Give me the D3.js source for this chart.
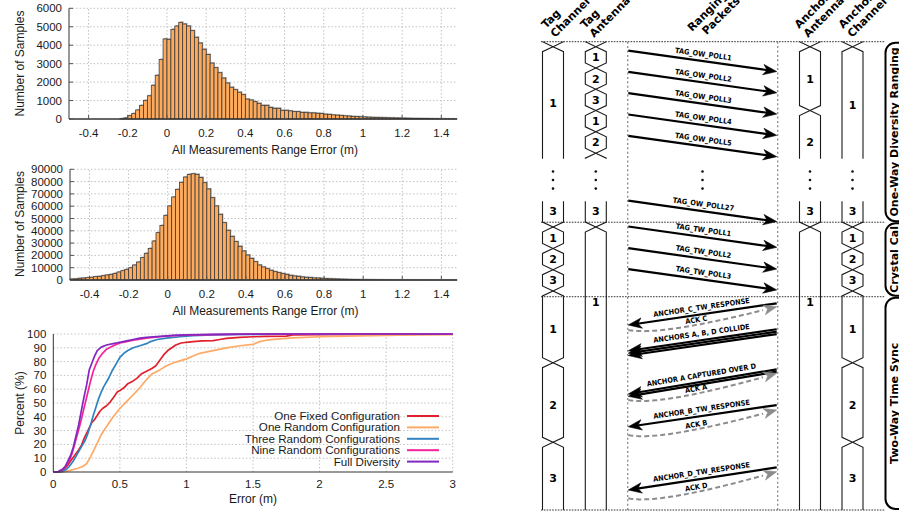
<!DOCTYPE html>
<html>
<head>
<meta charset="utf-8">
<script src="https://cdn.jsdelivr.net/npm/d3@7"></script>
<style>
  html, body { margin: 0; padding: 0; background: #fff; }
  svg { display: block; }
  .plot text { font-family: "Liberation Sans", Arial, sans-serif; fill: #1a1a1a; }
  .diag text { font-family: "DejaVu Sans", sans-serif; font-weight: bold; fill: #000; }
  .diag text.pkt { font-family: "DejaVu Sans Condensed", "Liberation Sans Narrow", "DejaVu Sans", sans-serif; font-stretch: condensed; }
</style>
</head>
<body>
<svg id="fig" width="899" height="518"></svg>
<script>
// ---------------- histogram data (bin width 0.02 m) ----------------
const BIN = 0.02;
const histTicksX = [-0.4, -0.2, 0, 0.2, 0.4, 0.6, 0.8, 1, 1.2, 1.4];

// all measurements, bins starting at -0.24 m
const allStart = -0.24;
const allCounts = [20, 60, 180, 300, 490, 740, 1010, 1260, 1830, 2370,
  3230, 4340, 4320, 4860, 5040, 5240, 5150, 5040, 4790, 4430,
  4120, 3780, 3500, 3030, 2780, 2510, 2220, 1950, 1720, 1590,
  1450, 1320, 1080, 1030, 940, 850, 740, 740, 630, 580,
  580, 470, 470, 440, 400, 400, 360, 360, 330, 330,
  310, 300, 260, 250, 220, 210, 190, 170, 160, 140,
  130, 120, 110, 100, 90, 85, 80, 70, 65, 60,
  55, 50, 45, 40, 35, 32, 30, 25, 22, 18,
  15, 12, 10, 8, 6, 4];
const allTicksY = [0, 1000, 2000, 3000, 4000, 5000, 6000];

// full diversity measurements, bins starting at -0.50 m
const fullStart = -0.5;
const fullCounts = [800, 900, 1400, 1600, 1900, 2200, 2700, 3000, 3500,
  4100, 4600, 5400, 6500, 7600, 8700, 10000, 12200, 14600, 18200,
  21700, 25700, 31700, 38500, 44400, 52600, 60200, 67500, 73700, 79400,
  83700, 85900, 86400, 85900, 83400, 79100, 74000, 66900, 60200, 53400,
  46600, 40400, 35500, 31200, 27400, 23600, 20300, 17600, 14900, 12200,
  10600, 9200, 7900, 6800, 6000, 5200, 4600, 3800, 3300, 3000,
  2500, 2200, 2000, 1700, 1600, 1400, 1100, 1000, 900, 800,
  650, 600, 500, 400, 350, 300, 260, 220, 190, 160,
  140, 120, 110, 100, 90, 80, 70, 60, 55, 50,
  45, 40, 35, 30, 28, 25, 22, 20, 18, 16];
const fullTicksY = [0, 10000, 20000, 30000, 40000, 50000, 60000, 70000, 80000, 90000];

// ---------------- CDF data: [error (m), percent] ----------------
const cdfNames = ["One Fixed Configuration", "One Random Configuration",
  "Three Random Configurations", "Nine Random Configurations", "Full Diversity"];
const cdfColors = ["#e0202c", "#fdaa66", "#2f83c0", "#f5229a", "#8228be"];
const cdfFixed = [[0,0],[0.05,0],[0.07,1],[0.09,3],[0.11,5],[0.13,8],[0.16,12],[0.19,16],[0.21,19],[0.23,24],[0.25,28],[0.27,32],[0.29,36],[0.31,38],[0.33,41],[0.35,44],[0.37,46],[0.4,48],[0.43,51],[0.46,55],[0.48,58],[0.5,59],[0.53,61],[0.56,64],[0.6,66],[0.63,68],[0.66,71],[0.7,73],[0.74,75],[0.77,77],[0.8,81],[0.83,85],[0.86,88],[0.89,90],[0.92,92],[0.96,93.5],[1.0,94],[1.05,94.5],[1.12,95],[1.2,95.2],[1.25,96],[1.3,96.8],[1.4,97.5],[1.5,98],[1.6,98.3],[1.75,98.5],[1.8,99.3],[2.0,99.6],[2.5,99.8],[3.0,100]];
const cdfOneRandom = [[0,0],[0.08,0],[0.12,1],[0.18,2.5],[0.22,4],[0.25,6],[0.28,11],[0.3,15],[0.33,21],[0.36,27],[0.4,33],[0.45,40],[0.5,46],[0.55,51],[0.6,56],[0.65,61],[0.7,67],[0.74,71],[0.8,74],[0.85,77],[0.9,79],[0.95,80.5],[1.0,82],[1.05,84],[1.1,86],[1.2,88],[1.3,90],[1.4,91.5],[1.5,92.5],[1.55,94.5],[1.6,95.5],[1.7,96.5],[1.8,97.2],[2.0,98],[2.3,98.7],[2.6,99.2],[3.0,99.5]];
const cdfThree = [[0,0],[0.06,0],[0.08,1],[0.1,2],[0.12,4],[0.15,8],[0.18,13],[0.21,18],[0.24,23],[0.26,28],[0.28,34],[0.3,41],[0.32,47],[0.34,53],[0.36,58],[0.38,62],[0.41,67],[0.44,73],[0.47,78],[0.5,83],[0.53,86],[0.56,88],[0.6,90],[0.65,91.5],[0.7,93],[0.73,94.5],[0.78,96],[0.85,97],[0.95,98],[1.05,98.8],[1.2,99.3],[1.4,99.7],[1.8,100],[3,100]];
const cdfNine = [[0,0],[0.04,0],[0.06,1],[0.08,3],[0.1,5],[0.12,8],[0.14,13],[0.16,20],[0.18,27],[0.2,34],[0.22,42],[0.24,50],[0.26,58],[0.28,66],[0.3,73],[0.32,78],[0.34,82],[0.37,86],[0.4,89],[0.45,91.5],[0.5,93.5],[0.55,94.5],[0.6,95.5],[0.7,97],[0.8,98],[0.9,98.8],[1.0,99.2],[1.2,99.6],[1.5,100],[3,100]];
const cdfFull = [[0,0],[0.03,0],[0.05,1],[0.07,2],[0.09,4],[0.11,8],[0.13,12],[0.15,18],[0.17,26],[0.19,34],[0.21,44],[0.23,54],[0.25,63],[0.27,74],[0.29,79],[0.31,84],[0.33,88],[0.36,90.5],[0.4,92],[0.45,93],[0.5,94],[0.55,95],[0.6,96],[0.65,97],[0.7,97.5],[0.8,98.3],[0.9,99],[1.0,99.4],[1.2,99.7],[1.5,99.9],[1.8,100],[3,100]];
const cdfSeries = [cdfFixed, cdfOneRandom, cdfThree, cdfNine, cdfFull];
const cdfTicksX = [0, 0.5, 1, 1.5, 2, 2.5, 3];
const cdfTicksY = [0, 10, 20, 30, 40, 50, 60, 70, 80, 90, 100];

// ---------------- timing diagram data (time in packet slots) ----------------
const laneHeaders = [["Tag", "Channel"], ["Tag", "Antenna"], ["Ranging", "Packets"], ["Anchor", "Antenna"], ["Anchor", "Channel"]];
const phaseNames = ["One-Way Diversity Ranging", "Crystal Cal", "Two-Way Time Sync"];
const phaseBounds = [0, 8.48, 11.98, 22];
const elidedSlots = [5.5, 7.5];

// bus segments: [start, end, starts with transition, ends with transition, value, label time]
const tagChannelBus = [[0,0.235,0,1,""],[0.235,5.5,1,0,"1",2.9],[7.5,8.71,0,1,"3",7.95],
  [8.71,9.71,1,1,"1"],[9.71,10.71,1,1,"2"],[10.71,11.71,1,1,"3"],
  [11.71,15.08,1,1,"1",13.5],[15.08,18.82,1,1,"2",17.07],[18.82,22,1,0,"3",20.5]];
const tagAntennaBus = [[0,0.235,0,1,""],[0.235,1.235,1,1,"1"],[1.235,2.235,1,1,"2"],[2.235,3.235,1,1,"3"],
  [3.235,4.235,1,1,"1"],[4.235,5.235,1,1,"2"],[5.235,5.5,1,0,""],[7.5,8.71,0,1,"3",7.95],[8.71,22,1,0,"1",12.25]];
const anchorAntennaBus = [[0,0.235,0,1,""],[0.235,3.235,1,1,"1"],[3.235,5.5,1,0,"2",4.7],
  [7.5,8.71,0,1,"3",7.95],[8.71,22,1,0,"1",12.25]];
const anchorChannelBus = [[0,0.235,0,1,""],[0.235,5.5,1,0,"1",2.97],[7.5,8.71,0,1,"3",7.95],
  [8.71,9.71,1,1,"1"],[9.71,10.71,1,1,"2"],[10.71,11.71,1,1,"3"],
  [11.71,15.08,1,1,"1",13.5],[15.08,18.82,1,1,"2",17.07],[18.82,22,1,0,"3",20.5]];

const owPolls = ["TAG_OW_POLL1", "TAG_OW_POLL2", "TAG_OW_POLL3", "TAG_OW_POLL4", "TAG_OW_POLL5", "TAG_OW_POLL27"];
const owSent = [0.42, 1.42, 2.42, 3.42, 4.42, 7.47];
const twPolls = ["TAG_TW_POLL1", "TAG_TW_POLL2", "TAG_TW_POLL3"];
const twSent = [8.68, 9.7, 10.68];
const pollAirtime = 0.98;

const responseLabels = ["ANCHOR_C_TW_RESPONSE", "ANCHORS A, B, D COLLIDE", "ANCHOR A CAPTURED OVER D", "ANCHOR_B_TW_RESPONSE", "ANCHOR_D_TW_RESPONSE"];
const responseCopies = [1, 3, 2, 1, 1];
const responseSent = [12.29, 13.51, 15.39, 17.07, 20.0];
const responseRecv = [13.31, 14.52, 16.55, 18.09, 21.06];
const ackLabels = ["ACK C", null, "ACK A", "ACK B", "ACK D"];
const ackSent = [13.54, null, 16.83, 18.48, 21.45];
const ackRecv = [12.45, null, 15.58, 17.3, 20.2];

// ======================================================================
const svg = d3.select("#fig");

function drawHistogram(counts, start, yMax, yTicks, box) {
  const g = svg.append("g").attr("class", "plot");
  const x = d3.scaleLinear().domain([-0.5, 1.48]).range([box.left, box.right]);
  const y = d3.scaleLinear().domain([0, yMax]).range([box.bottom, box.top]);

  g.append("g").selectAll("line").data(histTicksX).join("line")
    .attr("x1", d => x(d)).attr("x2", d => x(d))
    .attr("y1", box.bottom).attr("y2", box.top)
    .attr("stroke", "#c2c2c2").attr("stroke-dasharray", "1.5,2");
  g.append("g").selectAll("line").data(yTicks.slice(1)).join("line")
    .attr("x1", box.left).attr("x2", box.right)
    .attr("y1", d => y(d)).attr("y2", d => y(d))
    .attr("stroke", "#c2c2c2").attr("stroke-dasharray", "1.5,2");

  const bins = counts.map((c, i) => ({ x0: start + i * BIN, c }));
  const bw = x(BIN) - x(0);
  // soft grey offset outline behind the bars
  g.append("g").selectAll("rect").data(bins).join("rect")
    .attr("x", d => x(d.x0) + 1).attr("y", d => y(d.c) - 1)
    .attr("width", bw).attr("height", d => box.bottom - y(d.c))
    .attr("fill", "#b0b0b0");
  g.append("g").selectAll("rect").data(bins).join("rect")
    .attr("x", d => x(d.x0)).attr("y", d => y(d.c))
    .attr("width", bw).attr("height", d => box.bottom - y(d.c))
    .attr("fill", "#fdaa5c").attr("stroke", "#3d3d3d").attr("stroke-width", 0.8);

  // axes
  g.append("line").attr("x1", box.left).attr("x2", box.left).attr("y1", box.bottom).attr("y2", box.top)
    .attr("stroke", "#333").attr("stroke-width", 1);
  g.append("line").attr("x1", box.left).attr("x2", box.right).attr("y1", box.bottom).attr("y2", box.bottom)
    .attr("stroke", "#333").attr("stroke-width", 1.4);
  g.append("g").selectAll("line").data(histTicksX).join("line")
    .attr("x1", d => x(d)).attr("x2", d => x(d)).attr("y1", box.bottom).attr("y2", box.bottom - 4)
    .attr("stroke", "#555");
  g.append("g").selectAll("line").data(yTicks).join("line")
    .attr("x1", box.left).attr("x2", box.left + 4).attr("y1", d => y(d)).attr("y2", d => y(d))
    .attr("stroke", "#555");

  g.append("g").selectAll("text").data(yTicks).join("text")
    .attr("x", box.left - 7).attr("y", d => y(d) + 4).attr("text-anchor", "end")
    .attr("font-size", 11.5).text(d => String(d));
  g.append("g").selectAll("text").data(histTicksX).join("text")
    .attr("x", d => x(d)).attr("y", box.bottom + 18).attr("text-anchor", "middle")
    .attr("font-size", 11.5).text(d => String(d));
  g.append("text").attr("x", (box.left + box.right) / 2 + 2).attr("y", box.bottom + 35)
    .attr("text-anchor", "middle").attr("font-size", 12).text("All Measurements Range Error (m)");
  g.append("text").attr("transform", `translate(24,${box.titleY}) rotate(-90)`)
    .attr("text-anchor", "middle").attr("font-size", 12).text("Number of Samples");
}

drawHistogram(allCounts, allStart, 6000, allTicksY, { left: 69, right: 457, top: 8.3, bottom: 119, titleY: 63.5 });
drawHistogram(fullCounts, fullStart, 90000, fullTicksY, { left: 70, right: 457, top: 169.3, bottom: 280, titleY: 224 });

// ---------------- CDF plot ----------------
(function drawCdf() {
  const g = svg.append("g").attr("class", "plot");
  const x = d3.scaleLinear().domain([0, 3]).range([53.3, 452.7]);
  const y = d3.scaleLinear().domain([0, 100]).range([472, 334]);

  g.append("g").selectAll("line").data(cdfTicksX.slice(1)).join("line")
    .attr("x1", d => x(d)).attr("x2", d => x(d)).attr("y1", y(0)).attr("y2", y(100))
    .attr("stroke", "#c2c2c2").attr("stroke-dasharray", "1.5,2");
  g.append("g").selectAll("line").data(cdfTicksY.slice(1)).join("line")
    .attr("x1", x(0)).attr("x2", x(3)).attr("y1", d => y(d)).attr("y2", d => y(d))
    .attr("stroke", "#c2c2c2").attr("stroke-dasharray", "1.5,2");

  const line = d3.line().x(d => x(d[0])).y(d => y(d[1]));
  g.append("g").selectAll("path").data(cdfSeries).join("path")
    .attr("d", line).attr("fill", "none")
    .attr("stroke", (d, i) => cdfColors[i]).attr("stroke-width", 1.7)
    .attr("stroke-linejoin", "round");

  g.append("line").attr("x1", x(0)).attr("x2", x(0)).attr("y1", y(0)).attr("y2", y(100))
    .attr("stroke", "#333");
  g.append("line").attr("x1", x(0)).attr("x2", x(3)).attr("y1", y(0)).attr("y2", y(0))
    .attr("stroke", "#333");

  g.append("g").selectAll("text").data(cdfTicksY).join("text")
    .attr("x", x(0) - 7).attr("y", d => y(d) + 4).attr("text-anchor", "end")
    .attr("font-size", 11.5).text(d => String(d));
  g.append("g").selectAll("text").data(cdfTicksX).join("text")
    .attr("x", d => x(d)).attr("y", y(0) + 16).attr("text-anchor", "middle")
    .attr("font-size", 11.5).text(d => String(d));
  g.append("text").attr("x", (x(0) + x(3)) / 2).attr("y", y(0) + 30.5)
    .attr("text-anchor", "middle").attr("font-size", 12).text("Error (m)");
  g.append("text").attr("transform", `translate(23.5,${y(50) + 0}) rotate(-90)`)
    .attr("text-anchor", "middle").attr("font-size", 12).text("Percent (%)");

  const lg = g.append("g").selectAll("g").data(cdfNames).join("g")
    .attr("transform", (d, i) => `translate(0,${416 + i * 11.4})`);
  lg.append("text").attr("x", 400).attr("y", 4).attr("text-anchor", "end")
    .attr("font-size", 11.6).text(d => d);
  lg.append("line").attr("x1", 407).attr("x2", 439).attr("y1", 0).attr("y2", 0)
    .attr("stroke", (d, i) => cdfColors[i]).attr("stroke-width", 2);
})();

// ---------------- timing diagram ----------------
(function drawDiagram() {
  const dg = svg.append("g").attr("class", "diag");
  const yT = d3.scaleLinear().domain([0, 22]).range([41.7, 510]);
  const xP = d3.scaleLinear().domain([0, 1]).range([628.3, 776.7]);
  const laneCenter = [553, 595.8, 702.5, 810, 852.5];
  const W = 10.5, D = 5;

  // separators between phases
  dg.append("g").selectAll("line").data(phaseBounds).join("line")
    .attr("x1", 541).attr("x2", 885).attr("y1", d => yT(d)).attr("y2", d => yT(d))
    .attr("stroke", "#333").attr("stroke-width", 1).attr("stroke-dasharray", "1.6,1.2");
  // packet column borders
  dg.append("g").selectAll("line").data([0, 1]).join("line")
    .attr("x1", d => xP(d) - (d ? -1 : 0.6)).attr("x2", d => xP(d) - (d ? -1 : 0.6))
    .attr("y1", yT(0)).attr("y2", yT(22))
    .attr("stroke", "#8a8a8a").attr("stroke-width", 1.3).attr("stroke-dasharray", "2,2.4");

  // bus lanes
  function drawBus(cx, pieces) {
    const g = dg.append("g");
    pieces.forEach(([t0, t1, c0, c1, label, lt]) => {
      const y0 = yT(t0), y1 = yT(t1);
      [-1, 1].forEach(s => {
        const pts = [];
        if (c0) pts.push([cx, y0]);
        pts.push([cx + s * W, c0 ? y0 + D : y0]);
        pts.push([cx + s * W, c1 ? y1 - D : y1]);
        if (c1) pts.push([cx, y1]);
        g.append("path").attr("d", d3.line()(pts)).attr("fill", "none")
          .attr("stroke", "#1a1a1a").attr("stroke-width", 1.1);
      });
      if (label) g.append("text").attr("x", cx).attr("y", yT(lt !== undefined ? lt : (t0 + t1) / 2))
        .attr("dy", "0.36em").attr("text-anchor", "middle").attr("font-size", 11).text(label);
    });
  }
  drawBus(laneCenter[0], tagChannelBus);
  drawBus(laneCenter[1], tagAntennaBus);
  drawBus(laneCenter[3], anchorAntennaBus);
  drawBus(laneCenter[4], anchorChannelBus);

  // vertical ellipsis in the elided stretch
  const dotT = [0, 1, 2].map(k => elidedSlots[0] + 0.6 + k * 0.4);
  laneCenter.forEach(cx => {
    dg.append("g").selectAll("circle").data(dotT).join("circle")
      .attr("cx", cx).attr("cy", d => yT(d)).attr("r", 1.3).attr("fill", "#111");
  });

  function head(g, tip, ang, fill, len, half) {
    const ca = Math.cos(ang), sa = Math.sin(ang);
    const p = (u, v) => [tip[0] - u * ca - v * sa, tip[1] - u * sa + v * ca];
    g.append("path").attr("d", d3.line()([p(0, 0), p(len, half), p(len * 0.72, 0), p(len, -half)]) + "Z")
      .attr("fill", fill).attr("stroke", fill).attr("stroke-width", 0.6).attr("stroke-linejoin", "miter");
  }
  function arrow(g, from, to) {
    const ang = Math.atan2(to[1] - from[1], to[0] - from[0]);
    const end = [to[0] - 9 * Math.cos(ang), to[1] - 9 * Math.sin(ang)];
    g.append("line").attr("x1", from[0]).attr("y1", from[1]).attr("x2", end[0]).attr("y2", end[1])
      .attr("stroke", "#000").attr("stroke-width", 2.2);
    head(g, to, ang, "#000", 13.5, 5.2);
  }
  function pktLabel(g, a, b, text, offset, color) {
    const L = a[0] < b[0] ? a : b, R = a[0] < b[0] ? b : a;
    const ang = Math.atan2(R[1] - L[1], R[0] - L[0]) * 180 / Math.PI;
    const mx = (L[0] + R[0]) / 2, my = (L[1] + R[1]) / 2;
    g.append("text").attr("class", "pkt")
      .attr("transform", `translate(${mx},${my}) rotate(${ang})`)
      .attr("y", offset).attr("text-anchor", "middle").attr("font-size", 7.3)
      .attr("fill", color || "#000").text(text);
  }

  const ag = dg.append("g");
  owPolls.forEach((name, i) => {
    const a = [xP(0), yT(owSent[i])], b = [xP(1), yT(owSent[i] + pollAirtime)];
    arrow(ag, a, b); pktLabel(ag, a, b, name, -4.5);
  });
  twPolls.forEach((name, i) => {
    const a = [xP(0), yT(twSent[i])], b = [xP(1), yT(twSent[i] + pollAirtime)];
    arrow(ag, a, b); pktLabel(ag, a, b, name, -4.5);
  });

  responseLabels.forEach((name, i) => {
    for (let k = 0; k < responseCopies[i]; k++) {
      const off = k * 0.112;
      arrow(ag, [xP(1), yT(responseSent[i] + off)], [xP(0), yT(responseRecv[i] + off)]);
    }
    pktLabel(ag, [xP(1), yT(responseSent[i])], [xP(0), yT(responseRecv[i])], name, -4.3);

    if (ackLabels[i]) {
      const P0 = [xP(0), yT(ackSent[i])], P2 = [xP(1), yT(ackRecv[i])];
      const P1 = [xP(0.215), P0[1] + 6.7];
      const bez = t => [
        (1 - t) * (1 - t) * P0[0] + 2 * t * (1 - t) * P1[0] + t * t * P2[0],
        (1 - t) * (1 - t) * P0[1] + 2 * t * (1 - t) * P1[1] + t * t * P2[1]];
      const pts = d3.range(0, 0.941, 0.02).map(bez);
      ag.append("path").attr("d", d3.line()(pts)).attr("fill", "none")
        .attr("stroke", "#8c8c8c").attr("stroke-width", 2).attr("stroke-dasharray", "5,3");
      head(ag, P2, Math.atan2(P2[1] - P1[1], P2[0] - P1[0]), "#8c8c8c", 13, 5);
      const lp = bez(0.6);
      const ang = Math.atan2(P2[1] - P0[1], P2[0] - P0[0]) * 180 / Math.PI;
      ag.append("text").attr("class", "pkt")
        .attr("transform", `translate(${lp[0]},${lp[1]}) rotate(${ang})`)
        .attr("y", -2.5).attr("text-anchor", "middle").attr("font-size", 7.3)
        .attr("fill", "#999").text(ackLabels[i]);
    }
  });

  // column headers
  const headerAt = [[546, 29], [585, 29], [692, 32], [799, 29], [843, 29]];
  const headerIndent = [0, 0, 8, 0, 0];
  laneHeaders.forEach((lines, i) => {
    const t = dg.append("text")
      .attr("transform", `translate(${headerAt[i][0]},${headerAt[i][1]}) rotate(-45)`)
      .attr("font-size", 11);
    t.append("tspan").attr("x", 0).attr("dy", 0).text(lines[0]);
    t.append("tspan").attr("x", headerIndent[i]).attr("dy", "1.15em").text(lines[1]);
  });

  // phase brackets
  phaseNames.forEach((name, i) => {
    const y0 = yT(phaseBounds[i]) + 1, y1 = yT(phaseBounds[i + 1]) - 1;
    dg.append("rect").attr("x", 885.5).attr("y", y0).attr("width", 40).attr("height", y1 - y0)
      .attr("rx", 10).attr("fill", "none").attr("stroke", "#000").attr("stroke-width", 2);
    dg.append("text").attr("transform", `translate(897.5,${(y0 + y1) / 2}) rotate(-90)`)
      .attr("text-anchor", "middle").attr("font-size", 11).text(name);
  });
})();
</script>
</body>
</html>
